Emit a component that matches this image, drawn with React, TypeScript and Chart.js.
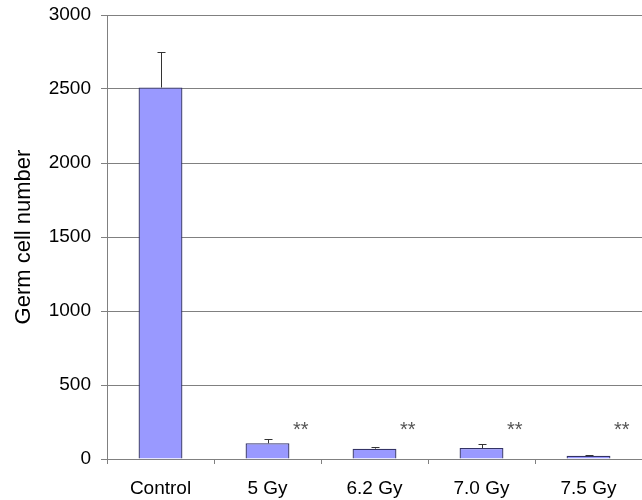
import React, { useEffect, useRef } from "react";
import { Chart, registerables } from "chart.js";

Chart.register(...registerables);

const categories = ["Control", "5 Gy", "6.2 Gy", "7.0 Gy", "7.5 Gy"];
const means = [2510, 106, 70, 74, 22];
const errorsUp = [240, 27, 13, 29, 7];
const significance = ["", "**", "**", "**", "**"];
const sigLevel = 210;
const yMin = 0;
const yMax = 3000;
const yStep = 500;

const FONT = "'Liberation Sans', Arial, sans-serif";

const errorBarPlugin = {
  id: "errorBars",
  afterDatasetsDraw(chart: any) {
    const ctx = chart.ctx;
    const meta = chart.getDatasetMeta(0);
    const y = chart.scales.y;
    const x = chart.scales.x;
    ctx.save();
    ctx.strokeStyle = "#333333";
    ctx.lineWidth = 1;
    meta.data.forEach((bar: any, i: number) => {
      const top = y.getPixelForValue(means[i] + errorsUp[i]);
      const base = y.getPixelForValue(means[i]);
      const cx = Math.round(bar.x) + 0.5;
      ctx.beginPath();
      ctx.moveTo(cx, base);
      ctx.lineTo(cx, Math.round(top) + 0.5);
      ctx.moveTo(cx - 4, Math.round(top) + 0.5);
      ctx.lineTo(cx + 4, Math.round(top) + 0.5);
      ctx.stroke();
    });
    ctx.fillStyle = "#555555";
    ctx.font = `20px ${FONT}`;
    ctx.textAlign = "center";
    ctx.textBaseline = "middle";
    const catW = x.getPixelForValue(1) - x.getPixelForValue(0);
    significance.forEach((s, i) => {
      if (!s) return;
      const px = x.getPixelForValue(i) + catW * 0.31;
      const py = y.getPixelForValue(sigLevel) + 3;
      ctx.fillText(s, px, py);
    });
    ctx.restore();
  },
};

export default function App() {
  const ref = useRef<HTMLCanvasElement | null>(null);
  useEffect(() => {
    if (!ref.current) return;
    const chart = new Chart(ref.current, {
      type: "bar",
      data: {
        labels: categories,
        datasets: [
          {
            data: means,
            backgroundColor: "#9999FF",
            borderColor: "#333366",
            borderWidth: 1.3,
            barPercentage: 0.41,
            categoryPercentage: 1,
          },
        ],
      },
      options: {
        animation: false,
        responsive: false,
        devicePixelRatio: 1,
        layout: { padding: { top: 15, right: 0, bottom: 0, left: 0 } },
        plugins: { legend: { display: false }, tooltip: { enabled: false } },
        scales: {
          x: {
            offset: true,
            afterFit: (scale: any) => {
              scale.height = 41;
              scale.paddingLeft = 0;
              scale.paddingRight = 0;
            },
            border: { display: true, color: "#808080", width: 1 },
            grid: {
              display: true,
              offset: true,
              drawOnChartArea: false,
              drawTicks: true,
              tickLength: 5,
              color: "#808080",
            },
            ticks: {
              color: "#000000",
              font: { family: FONT, size: 19 },
              padding: 13,
              maxRotation: 0,
              autoSkip: false,
            },
          },
          y: {
            min: yMin,
            max: yMax,
            afterFit: (scale: any) => {
              scale.width = 107;
              scale.paddingTop = 0;
              scale.paddingBottom = 0;
            },
            border: { display: true, color: "#808080", width: 1 },
            grid: {
              color: "#808080",
              lineWidth: 1,
              drawTicks: true,
              tickLength: 6,
            },
            ticks: {
              stepSize: yStep,
              color: "#000000",
              font: { family: FONT, size: 19 },
              padding: 10,
              callback: (v: any) => String(v),
            },
            title: {
              display: true,
              text: "Germ cell number",
              color: "#000000",
              font: { family: FONT, size: 22 },
              padding: { top: 11, bottom: 0 },
            },
          },
        },
      },
      plugins: [errorBarPlugin],
    });
    return () => chart.destroy();
  }, []);
  return (
    <div
      style={{
        position: "fixed",
        left: 0,
        top: 0,
        width: 642,
        height: 500,
        background: "#ffffff",
        overflow: "hidden",
      }}
    >
      <canvas ref={ref} width={642} height={500} style={{ display: "block" }} />
    </div>
  );
}
